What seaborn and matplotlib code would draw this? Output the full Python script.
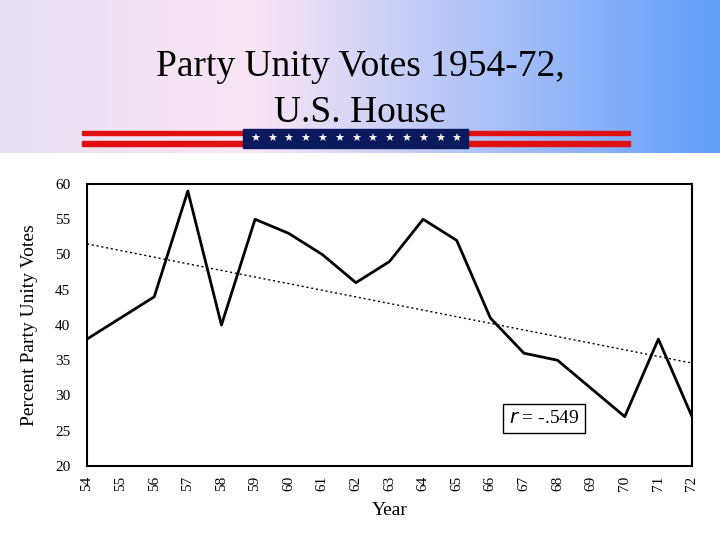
import numpy as np
import pandas as pd
import matplotlib
matplotlib.use("Agg")
import matplotlib.pyplot as plt
import seaborn as sns
from matplotlib.patches import Rectangle

years = [54,55,56,57,58,59,60,61,62,63,64,65,66,67,68,69,70,71,72]
unity = [38,41,44,59,40,55,53,50,46,49,55,52,41,36,35,31,27,38,27]
trend_years = [54, 72]
trend_vals = [51.5, 34.6]
yticks = [20,25,30,35,40,45,50,55,60]

sns.set_theme(style="white")
plt.rcParams['font.family'] = ['Liberation Serif', 'DejaVu Serif']
plt.rcParams['text.color'] = 'black'
plt.rcParams['axes.labelcolor'] = 'black'
plt.rcParams['xtick.color'] = 'black'
plt.rcParams['ytick.color'] = 'black'

fig = plt.figure(figsize=(7.2,5.4), dpi=100)
bg = fig.add_axes([0,1-153/540,1,153/540], zorder=0)
grad = np.linspace(0,1,256)
c0 = np.array([0.90,0.88,0.95]); cm = np.array([0.98,0.90,0.96]); c1 = np.array([0.38,0.62,0.98])
cols = np.where(grad[:,None] < 0.35,
                c0[None,:]*(1-grad[:,None]/0.35) + cm[None,:]*(grad[:,None]/0.35),
                cm[None,:]*(1-(grad[:,None]-0.35)/0.65) + c1[None,:]*((grad[:,None]-0.35)/0.65))
img = np.repeat(cols[None,:,:], 10, axis=0)
bg.imshow(img, aspect='auto', extent=[0,720,0,153])
bg.set_xlim(0,720); bg.set_ylim(0,153); bg.axis('off')
red = '#e01010'
for y0,h in [(153-135,4.5),(153-146,5.5)]:
    bg.add_patch(Rectangle((82,y0),548,h,color=red))
bg.add_patch(Rectangle((243,153-148),225,19,color='#0a1a5c'))
for i in range(13):
    bg.text(255+i*16.8, 153-138.5, '★', color='white', fontsize=8, ha='center', va='center', family='DejaVu Sans')

fig.text(0.5, 1-67/540, 'Party Unity Votes 1954-72,', ha='center', va='center', fontsize=27)
fig.text(0.5, 1-113/540, 'U.S. House', ha='center', va='center', fontsize=27)

ax = fig.add_axes([87/720, 1-466/540, 605/720, 282/540])
df = pd.DataFrame({'year': years, 'unity': unity})
sns.lineplot(data=df, x='year', y='unity', color='black', lw=2, ax=ax)
sns.lineplot(x=trend_years, y=trend_vals, color='black', lw=1, linestyle=(0,(1.5,2)), ax=ax)
ax.set_xlim(54,72); ax.set_ylim(20,60)
ax.set_xticks(years)
ax.set_xticklabels([str(y) for y in years], rotation=90, fontsize=11)
ax.set_yticks(yticks)
ax.set_yticklabels([str(v) for v in yticks], fontsize=11)
ax.tick_params(axis='x', direction='out', length=4, width=1, color='black', pad=3)
ax.tick_params(axis='y', length=0, pad=12)
for s in ax.spines.values():
    s.set_color('black'); s.set_linewidth(1.5)
ax.set_xlabel('Year', fontsize=14, labelpad=8)
ax.set_ylabel('Percent Party Unity Votes', fontsize=14, labelpad=12)
ax.text(67.6, 26.7, r'$r$ = -.549', fontsize=14, ha='center', va='center',
        bbox=dict(boxstyle='square,pad=0.3', fc='white', ec='black', lw=1))
fig.savefig('out.png', dpi=100)
